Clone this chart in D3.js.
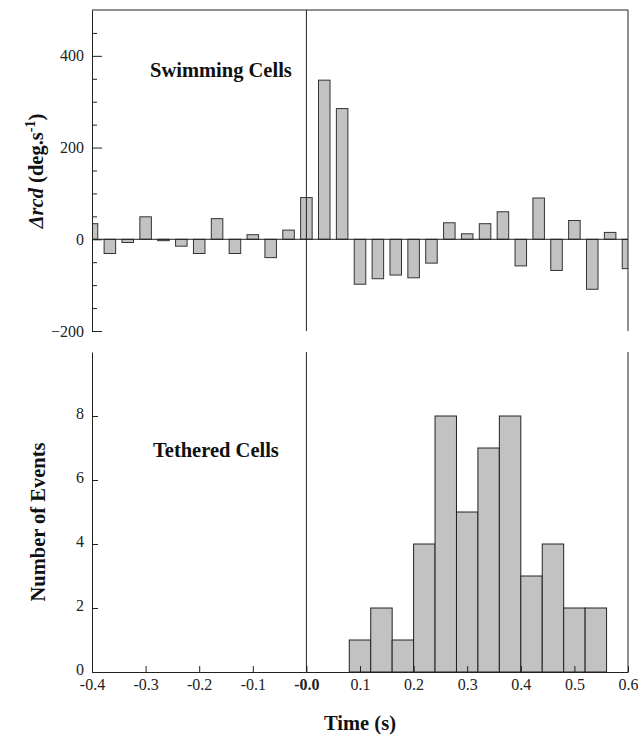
<!DOCTYPE html>
<html>
<head>
<meta charset="utf-8">
<script src="https://cdn.jsdelivr.net/npm/d3@7"></script>
<style>
  body { margin: 0; background: #fff; }
  .domain { stroke: #222; }
  .tick line { stroke: #222; }
</style>
</head>
<body>
<div id="chart"></div>
<script>
var svgWidth = 638;
var svgHeight = 735;

// swimming cells: video frames (30 frames per second) and mean change in rcd
var frameRate = 30;
var swimFrames = [-12, -11, -10, -9, -8, -7, -6, -5, -4, -3, -2, -1, 0,
  1, 2, 3, 4, 5, 6, 7, 8, 9, 10, 11, 12, 13, 14, 15, 16, 17, 18];
var swimValues = [34, -31, -7, 49, -3, -15, -31, 45, -31, 10, -40, 20, 91,
  347, 285, -98, -86, -78, -84, -52, 36, 12, 34, 60, -58, 90, -68, 41, -109, 15, -64];

// tethered cells: histogram bins (start of bin, seconds) and counts
var tetherBinStart = [0.08, 0.12, 0.16, 0.20, 0.24, 0.28, 0.32, 0.36, 0.40, 0.44, 0.48, 0.52];
var tetherCounts = [1, 2, 1, 4, 8, 5, 7, 8, 3, 4, 2, 2];
var binWidth = 0.04;

var timeTicks = [-0.4, -0.3, -0.2, -0.1, 0, 0.1, 0.2, 0.3, 0.4, 0.5, 0.6];
var timeTickLabels = ["-0.4", "-0.3", "-0.2", "-0.1", "-0.0", "0.1", "0.2", "0.3", "0.4", "0.5", "0.6"];
var swimMajorTicks = [-200, 0, 200, 400];
var swimMinorTicks = [-150, -100, -50, 50, 100, 150, 250, 300, 350, 450];
var tetherTicks = [0, 2, 4, 6, 8];

var serif = "'Liberation Serif', 'Times New Roman', serif";

// plot area
var left = 92, right = 628;
var topPanel = { top: 10, bottom: 331 };
var botPanel = { top: 352, bottom: 672 };

var svg = d3.select("#chart")
  .append("svg")
  .attr("width", svgWidth)
  .attr("height", svgHeight)
  .style("font-family", serif);

var xScale = d3.scaleLinear()
  .domain([-0.4, 0.6])
  .range([left, right]);

var ySwim = d3.scaleLinear()
  .domain([-200, 500])
  .range([topPanel.bottom, topPanel.top]);

var yTether = d3.scaleLinear()
  .domain([0, 10])
  .range([botPanel.bottom, botPanel.top]);

// style the tick labels of an axis group
function tickText(g) {
  g.selectAll(".tick text")
    .style("font-family", serif)
    .style("font-size", "16px")
    .attr("fill", "#222");
}

// clip for the swimming bars at the panel edges
svg.append("clipPath")
  .attr("id", "clipTop")
  .append("rect")
  .attr("x", left)
  .attr("y", topPanel.top)
  .attr("width", right - left)
  .attr("height", topPanel.bottom - topPanel.top);

// ---------- top panel ----------
var barW = xScale(0.0215) - xScale(0);
svg.append("g")
  .attr("clip-path", "url(#clipTop)")
  .selectAll("rect")
  .data(swimFrames)
  .enter()
  .append("rect")
  .attr("x", (d, i) => xScale(d / frameRate) - barW / 2)
  .attr("y", (d, i) => ySwim(Math.max(0, swimValues[i])))
  .attr("width", barW)
  .attr("height", (d, i) => Math.abs(ySwim(swimValues[i]) - ySwim(0)))
  .attr("fill", "#c2c2c2")
  .attr("stroke", "#333")
  .attr("stroke-width", 1);

// zero line
svg.append("line")
  .attr("x1", left).attr("x2", right)
  .attr("y1", ySwim(0)).attr("y2", ySwim(0))
  .attr("stroke", "#222");

// frame: top border, right border, and t = 0 line
svg.append("line")
  .attr("x1", left).attr("x2", right)
  .attr("y1", topPanel.top).attr("y2", topPanel.top)
  .attr("stroke", "#222");
svg.append("line")
  .attr("x1", right).attr("x2", right)
  .attr("y1", topPanel.top).attr("y2", topPanel.bottom)
  .attr("stroke", "#222");
svg.append("line")
  .attr("x1", xScale(0)).attr("x2", xScale(0))
  .attr("y1", topPanel.top).attr("y2", topPanel.bottom)
  .attr("stroke", "#222");

// y axis top (major + minor, inward)
svg.append("g")
  .attr("transform", `translate(${left},0)`)
  .call(d3.axisLeft(ySwim).tickValues(swimMajorTicks).tickSize(-10).tickPadding(8).tickSizeOuter(0))
  .call(tickText);
svg.append("g")
  .attr("transform", `translate(${left},0)`)
  .call(d3.axisLeft(ySwim).tickValues(swimMinorTicks).tickSize(-5).tickFormat("").tickSizeOuter(0))
  .call(g => g.select(".domain").remove());

svg.append("text")
  .attr("x", 150)
  .attr("y", 77)
  .attr("font-size", 20.5)
  .attr("font-weight", "bold")
  .attr("fill", "#111")
  .text("Swimming Cells");

var yLab = svg.append("text")
  .attr("transform", "translate(43,171) rotate(-90)")
  .attr("text-anchor", "middle")
  .attr("font-size", 20.5)
  .attr("font-weight", "bold")
  .attr("fill", "#111");
yLab.append("tspan").attr("font-style", "italic").text("\u0394rcd");
yLab.append("tspan").text(" (deg.s");
yLab.append("tspan").attr("dy", -8).attr("font-size", 14).text("-1");
yLab.append("tspan").attr("dy", 8).text(")");

// ---------- bottom panel ----------
svg.append("g")
  .selectAll("rect")
  .data(tetherBinStart)
  .enter()
  .append("rect")
  .attr("x", d => xScale(d))
  .attr("y", (d, i) => yTether(tetherCounts[i]))
  .attr("width", d => xScale(d + binWidth) - xScale(d))
  .attr("height", (d, i) => yTether(0) - yTether(tetherCounts[i]))
  .attr("fill", "#c2c2c2")
  .attr("stroke", "#222")
  .attr("stroke-width", 1);

svg.append("line")
  .attr("x1", right).attr("x2", right)
  .attr("y1", botPanel.top).attr("y2", botPanel.bottom)
  .attr("stroke", "#222");
svg.append("line")
  .attr("x1", xScale(0)).attr("x2", xScale(0))
  .attr("y1", botPanel.top).attr("y2", botPanel.bottom)
  .attr("stroke", "#222");

svg.append("g")
  .attr("transform", `translate(${left},0)`)
  .call(d3.axisLeft(yTether).tickValues(tetherTicks).tickSize(-6).tickPadding(8).tickSizeOuter(0))
  .call(tickText)
  .call(g => g.selectAll(".tick text").attr("dy", "0.15em"));

svg.append("g")
  .attr("transform", `translate(0,${botPanel.bottom})`)
  .call(d3.axisBottom(xScale).tickValues(timeTicks)
    .tickFormat((d, i) => timeTickLabels[i])
    .tickSize(-6).tickPadding(7).tickSizeOuter(0))
  .call(tickText)
  .call(g => g.selectAll(".tick text")
    .attr("font-weight", (d, i) => timeTickLabels[i] === "-0.0" ? "bold" : "normal"));

svg.append("text")
  .attr("x", 153)
  .attr("y", 457)
  .attr("font-size", 20.5)
  .attr("font-weight", "bold")
  .attr("fill", "#111")
  .text("Tethered Cells");

svg.append("text")
  .attr("transform", "translate(45,522) rotate(-90)")
  .attr("text-anchor", "middle")
  .attr("font-size", 20.5)
  .attr("font-weight", "bold")
  .attr("fill", "#111")
  .text("Number of Events");

svg.append("text")
  .attr("x", (left + right) / 2)
  .attr("y", 730)
  .attr("text-anchor", "middle")
  .attr("font-size", 20.5)
  .attr("font-weight", "bold")
  .attr("fill", "#111")
  .text("Time (s)");
</script>
</body>
</html>
